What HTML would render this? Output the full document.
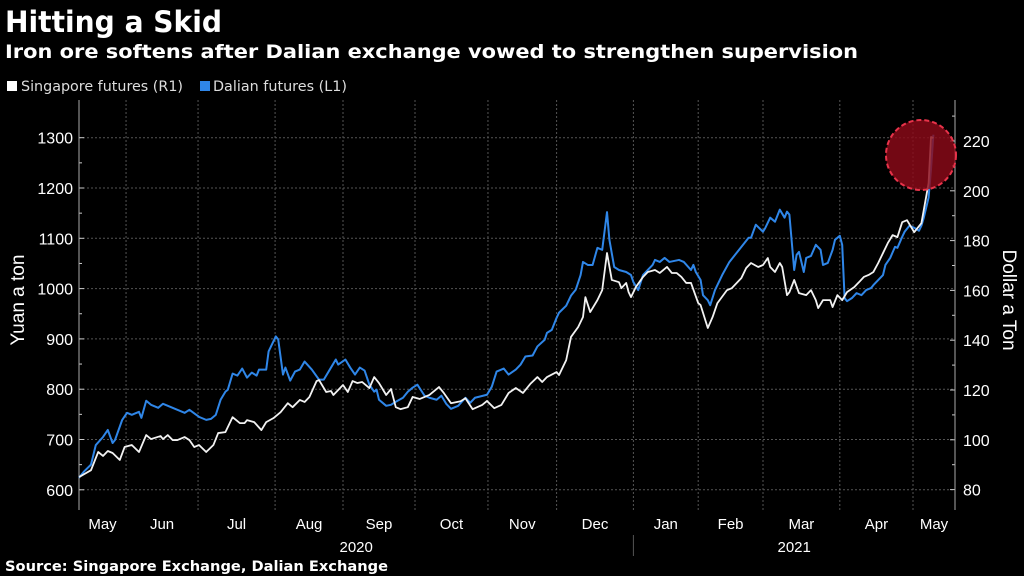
<!DOCTYPE html>
<html><head><meta charset="utf-8">
<style>
body{margin:0;background:#000;width:1024px;height:576px;overflow:hidden;font-family:"Liberation Sans",sans-serif;color:#fff}
svg{position:absolute;left:0;top:0}
</style></head>
<body>
<svg id="c" width="1024" height="576">
<text x="5" y="32" font-size="29" font-weight="bold" fill="#fff" font-family="DejaVu Sans, sans-serif" textLength="217" lengthAdjust="spacingAndGlyphs">Hitting a Skid</text>
<text x="5" y="58" font-size="19" font-weight="bold" fill="#fff" font-family="DejaVu Sans, sans-serif" textLength="853" lengthAdjust="spacingAndGlyphs">Iron ore softens after Dalian exchange vowed to strengthen supervision</text>
<g>
<rect x="7" y="81" width="10" height="10" fill="#fff"/>
<text x="21" y="91" font-size="14" fill="#ddd" font-family="DejaVu Sans, sans-serif" textLength="162" lengthAdjust="spacingAndGlyphs">Singapore futures (R1)</text>
<rect x="200" y="81" width="10" height="10" fill="#2f86e8"/>
<text x="213" y="91" font-size="14" fill="#ddd" font-family="DejaVu Sans, sans-serif" textLength="134" lengthAdjust="spacingAndGlyphs">Dalian futures (L1)</text>
</g>
<text transform="translate(24,300) rotate(-90)" text-anchor="middle" font-size="19" fill="#fff">Yuan a ton</text>
<text transform="translate(1003,300) rotate(90)" text-anchor="middle" font-size="19" fill="#fff">Dollar a Ton</text>
<text x="5" y="571" font-size="14" font-weight="bold" fill="#fff" font-family="DejaVu Sans, sans-serif" textLength="383" lengthAdjust="spacingAndGlyphs">Source: Singapore Exchange, Dalian Exchange</text>
<g id="g"></g>
</svg>
<script>
const leftTicks=[600,700,800,900,1000,1100,1200,1300];
const rightTicks=[80,100,120,140,160,180,200,220];
const months=["May","Jun","Jul","Aug","Sep","Oct","Nov","Dec","Jan","Feb","Mar","Apr","May"];
const monthStarts=[-9,19.6,49.6,81.7,110,140,170.4,199,231,258,285,317,347.5,370];
const years=["2020","2021"];
const dalianDays=[0,2,5,7,10,12,14,15,18,20,22,25,26,28,30,33,35,38,41,44,46,50,53,55,57,59,61,62,64,66,68,70,72,74,75,78,79,80,82,83,85,86,88,90,92,94,97,100,102,105,107,108,111,113,115,117,119,121,123,124,125,128,130,132,135,137,139,141,144,146,149,151,153,155,158,161,163,165,170,172,174,177,179,182,184,186,189,191,194,195,197,199,200,203,205,207,209,210,212,214,216,218,220,221,223,225,228,230,231,233,235,237,239,240,242,244,246,250,252,255,256,257,259,260,262,263,265,268,271,275,279,280,282,285,286,288,290,292,294,295,296,298,299,300,302,303,305,307,309,310,312,314,315,317,318,319,320,322,324,326,328,330,331,333,335,336,338,340,341,343,344,346,348,350,351,352,354,355,356];
const dalianVals=[624,636,650,689,705,719,693,699,739,753,749,755,743,777,769,763,771,765,759,753,759,745,739,741,749,779,795,799,831,827,841,823,833,827,839,839,875,885,905,899,829,843,817,835,839,855,839,819,819,843,859,849,859,843,829,843,837,809,795,799,779,767,769,775,783,795,803,809,787,783,779,787,771,761,767,783,773,783,789,805,835,841,829,839,849,865,867,885,898,912,918,942,952,966,986,998,1027,1053,1047,1047,1081,1077,1152,1097,1043,1037,1033,1027,1013,997,1027,1037,1047,1057,1053,1061,1053,1057,1053,1037,1047,1033,1017,987,977,967,997,1027,1053,1077,1101,1101,1127,1113,1121,1141,1133,1157,1141,1153,1147,1037,1067,1073,1033,1061,1065,1087,1077,1047,1051,1077,1097,1105,1087,981,975,981,991,987,997,1001,1007,1017,1027,1047,1061,1083,1081,1103,1113,1125,1121,1115,1125,1141,1181,1237,1306];
const sgxDays=[0,5,8,10,12,14,17,19,22,25,28,30,34,35,37,39,41,44,46,48,50,53,56,58,61,64,67,69,70,73,76,78,81,84,87,89,92,94,96,99,100,103,105,106,108,110,112,114,116,118,121,123,125,128,130,132,134,137,139,142,146,150,152,155,159,161,164,168,170,173,176,179,182,185,188,191,193,195,199,200,203,205,208,210,211,213,216,218,220,222,225,226,228,229,230,232,235,237,240,242,245,247,249,251,253,255,258,259,262,264,266,270,272,276,278,280,283,285,287,288,290,292,293,295,296,298,300,303,305,307,308,310,313,314,316,318,320,323,325,327,329,331,333,335,337,339,341,343,345,348,351,352,354,355,356];
const sgxVals=[85.0,87.8,95.1,93.5,95.5,94.7,91.9,97.1,97.9,95.1,101.9,100.3,101.5,100.3,101.9,99.9,99.9,101.1,99.9,97.1,97.9,95.1,97.9,102.7,103.1,109.1,106.7,106.7,107.9,107.1,103.9,107.1,108.7,111.1,114.7,113.1,116.0,115.2,117.2,123.6,124.0,119.2,119.6,118.0,120.0,122.0,119.2,123.6,122.8,123.2,120.8,125.2,122.8,118.0,120.4,113.1,112.3,113.1,117.2,116.4,118.0,121.2,118.8,114.7,115.5,116.7,112.3,114.0,115.6,112.7,114.0,118.8,120.8,118.8,122.4,125.2,123.2,125.2,127.2,126.0,132.0,141.3,145.3,149.3,157.3,151.3,156.1,160.1,175.0,164.2,163.3,160.9,163.0,159.3,157.3,161.3,165.4,167.4,168.2,167.0,169.4,167.0,167.0,165.4,163.0,163.0,154.9,154.1,144.9,149.3,154.9,160.1,160.9,165.0,169.0,171.0,169.4,170.2,173.0,169.4,167.4,171.0,169.4,158.1,159.3,164.2,158.9,158.1,160.1,156.1,152.9,156.1,156.1,153.3,158.1,156.1,159.3,161.3,163.3,165.4,166.2,167.4,171.0,175.0,179.0,182.2,181.4,187.4,188.2,183.4,187.0,192.3,203.1,221.6,221.2];

const X0=79,X1=955,YT=100,YB=510;
const xd=d=>X0+d*2.4;
const yL=v=>137.7+(1300-v)*0.503;
const yR=v=>141+(220-v)*2.49;
const g=document.getElementById('g');
const NS='http://www.w3.org/2000/svg';
function mk(t,a){const e=document.createElementNS(NS,t);for(const k in a)e.setAttribute(k,a[k]);g.appendChild(e);return e;}

leftTicks.forEach(v=>{
  const y=yL(v);
  const l=mk('line',{x1:X0,x2:X1,y1:y,y2:y,stroke:'#555','stroke-dasharray':'2,2','stroke-width':1});
  
  
  const tk=mk('line',{x1:X0,x2:X0+5,y1:y,y2:y,stroke:'#ccc'});
  
  
  const t=mk('text',{x:X0-6,y:y+6,'text-anchor':'end','font-size':16,fill:'#fff'});
  t.textContent=v;
  
  
  const m=yL(v+50);
  if(v<1300){const mt=mk('line',{x1:X0,x2:X0+3,y1:m,y2:m,stroke:'#ccc'});
  
  }
});
rightTicks.forEach(v=>{
  const y=yR(v);
  const tk=mk('line',{x1:X1-5,x2:X1,y1:y,y2:y,stroke:'#ccc'});
  
  
  const t=mk('text',{x:X1+8,y:y+6,'font-size':16,fill:'#fff'});
  t.textContent=v;
  
  
  const m=yR(v+10);
  const mt=mk('line',{x1:X1-3,x2:X1,y1:m,y2:m,stroke:'#ccc'});
  
  
});
for(let i=1;i<monthStarts.length-1;i++){
  const x=xd(monthStarts[i]);
  const l=mk('line',{x1:x,x2:x,y1:YT,y2:YB,stroke:'#555','stroke-dasharray':'2,2'});
  
  
}
months.forEach((m,i)=>{
  const a=Math.max(X0,xd(monthStarts[i])),b=Math.min(X1,xd(monthStarts[i+1]));
  const t=mk('text',{x:(a+b)/2,y:529,'text-anchor':'middle','font-size':15,fill:'#fff'});
  t.textContent=m;
  
  
});
const yb=xd(monthStarts[8]);
const y1=mk('text',{x:(X0+yb)/2,y:552,'text-anchor':'middle','font-size':15,fill:'#fff'});
y1.textContent=years[0];


const y2=mk('text',{x:(yb+X1)/2,y:552,'text-anchor':'middle','font-size':15,fill:'#fff'});
y2.textContent=years[1];


const sep=mk('line',{x1:yb,x2:yb,y1:535,y2:556,stroke:'#555'});


const la=mk('line',{x1:X0,x2:X0,y1:YT,y2:YB,stroke:'#aaa'});


const ra=mk('line',{x1:X1,x2:X1,y1:YT,y2:YB,stroke:'#aaa'});



const dl=mk('polyline',{points:dalianDays.map((d,i)=>xd(d)+','+yL(dalianVals[i])).join(' '),fill:'none',stroke:'#2f86e8','stroke-width':2,'stroke-linejoin':'round'});


const sl=mk('polyline',{points:sgxDays.map((d,i)=>xd(d)+','+yR(sgxVals[i])).join(' '),fill:'none',stroke:'#f2f2f2','stroke-width':1.8,'stroke-linejoin':'round'});


const ci=mk('circle',{cx:921,cy:155,r:35,fill:'rgba(140,10,25,0.82)',stroke:'#e8334a','stroke-width':2,'stroke-dasharray':'5,3'});


</script>
</body></html>
